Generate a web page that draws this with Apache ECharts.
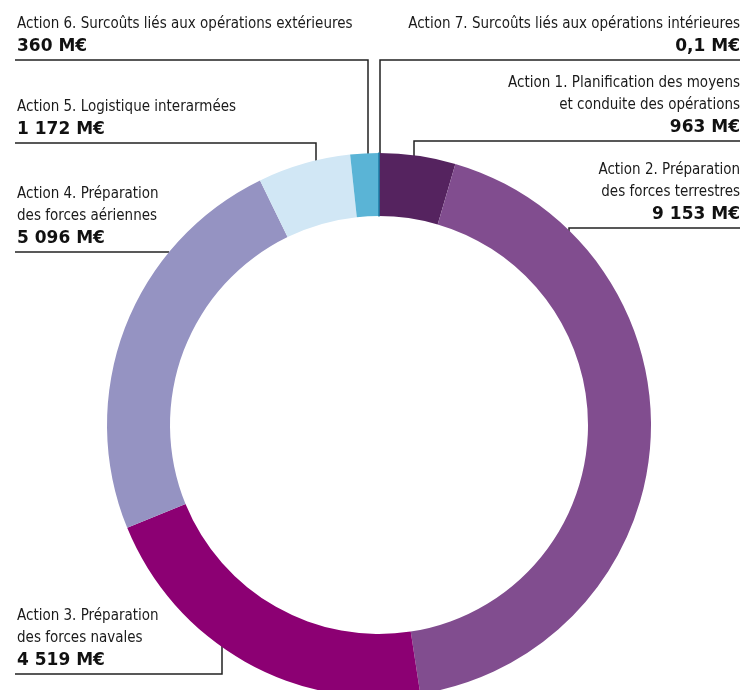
<!DOCTYPE html>
<html>
<head>
<meta charset="utf-8">
<script src="https://cdn.jsdelivr.net/npm/echarts@6/dist/echarts.min.js"></script>
<style>
  html, body { margin: 0; padding: 0; background: #fff; }
  #root { width: 747px; height: 690px; }
</style>
</head>
<body>
<div id="root"></div>
<script>
// budget actions, clockwise from 12 o'clock
var actionNames = [
  'Action 1. Planification des moyens\net conduite des opérations',
  'Action 2. Préparation\ndes forces terrestres',
  'Action 3. Préparation\ndes forces navales',
  'Action 4. Préparation\ndes forces aériennes',
  'Action 5. Logistique interarmées',
  'Action 6. Surcoûts liés aux opérations extérieures',
  'Action 7. Surcoûts liés aux opérations intérieures'
]
var amounts = [963, 9153, 4519, 5096, 1172, 360, 0.1]
var amountLabels = ['963 M€', '9 153 M€', '4 519 M€', '5 096 M€', '1 172 M€', '360 M€', '0,1 M€']
var colors = ['#55235f', '#814d8f', '#8c0073', '#9593c2', '#d1e7f5', '#5ab4d6', '#1b7ea6']

// ring geometry + where each callout sits
var cx = 379, cy = 425, rIn = 209, rOut = 272
var callouts = [
  { side: 'right', lineY: 141, stemX: 414 },
  { side: 'right', lineY: 228, stemX: 569 },
  { side: 'left', lineY: 674, stemX: 222, below: true },
  { side: 'left', lineY: 252 },
  { side: 'left', lineY: 143, stemX: 316 },
  { side: 'left', lineY: 60, stemX: 368 },
  { side: 'right', lineY: 60, stemX: 380 }
]
var leftX = 15, rightX = 740
var narrow = "'Liberation Sans Narrow', 'DejaVu Sans Condensed', sans-serif"

var chart = echarts.init(document.getElementById('root'))

var data = amounts.map(function (v, i) {
  var item = { name: actionNames[i], value: v, itemStyle: { color: colors[i], borderWidth: 0 } }
  if (v < 1) item.itemStyle = { color: colors[i], borderColor: colors[i], borderWidth: 1.5 }
  return item
})

function ringPoint(c) {
  if (c.stemX == null) {
    var dy = c.lineY - cy
    return [cx - Math.sqrt(rOut * rOut - dy * dy), c.lineY]
  }
  var dx = c.stemX - cx
  var h = Math.sqrt(rOut * rOut - dx * dx)
  return [c.stemX, c.below ? cy + h - 2 : cy - h + 2]
}

var descStyle = { fontFamily: narrow, fontSize: 15, color: '#1a1a1a', lineHeight: 22 }
var valStyle = { fontFamily: 'DejaVu Sans', fontWeight: 'bold', fontSize: 17, color: '#111', lineHeight: 23 }

var option = {
  animation: false,
  series: [{
    type: 'pie',
    center: [cx, cy],
    radius: [rIn, rOut],
    startAngle: 90,
    clockwise: true,
    avoidLabelOverlap: false,
    emphasis: { disabled: true },
    data: data,
    label: {
      show: true,
      position: 'outside',
      formatter: function (p) {
        var side = callouts[p.dataIndex].side === 'left' ? 'l' : 'r'
        var lines = actionNames[p.dataIndex].split('\n').map(function (s) {
          return '{t' + side + '|' + s + '}'
        })
        lines.push('{v' + side + '|' + amountLabels[p.dataIndex] + '}')
        return lines.join('\n')
      },
      rich: {
        tl: Object.assign({ align: 'left' }, descStyle),
        tr: Object.assign({ align: 'right' }, descStyle),
        vl: Object.assign({ align: 'left' }, valStyle),
        vr: Object.assign({ align: 'right' }, valStyle)
      }
    },
    labelLine: {
      show: true,
      lineStyle: { color: '#222', width: 1.5 }
    },
    labelLayout: function (params) {
      var c = callouts[params.dataIndex]
      var left = c.side === 'left'
      var p0 = ringPoint(c)
      var edgeX = left ? leftX : rightX
      var pts = c.stemX == null
        ? [p0, [p0[0], c.lineY], [edgeX, c.lineY]]
        : [p0, [c.stemX, c.lineY], [edgeX, c.lineY]]
      return {
        x: left ? leftX + 2 : rightX,
        y: c.lineY - 1.5,
        align: left ? 'left' : 'right',
        verticalAlign: 'bottom',
        labelLinePoints: pts
      }
    }
  }]
}

chart.setOption(option)
</script>
</body>
</html>
